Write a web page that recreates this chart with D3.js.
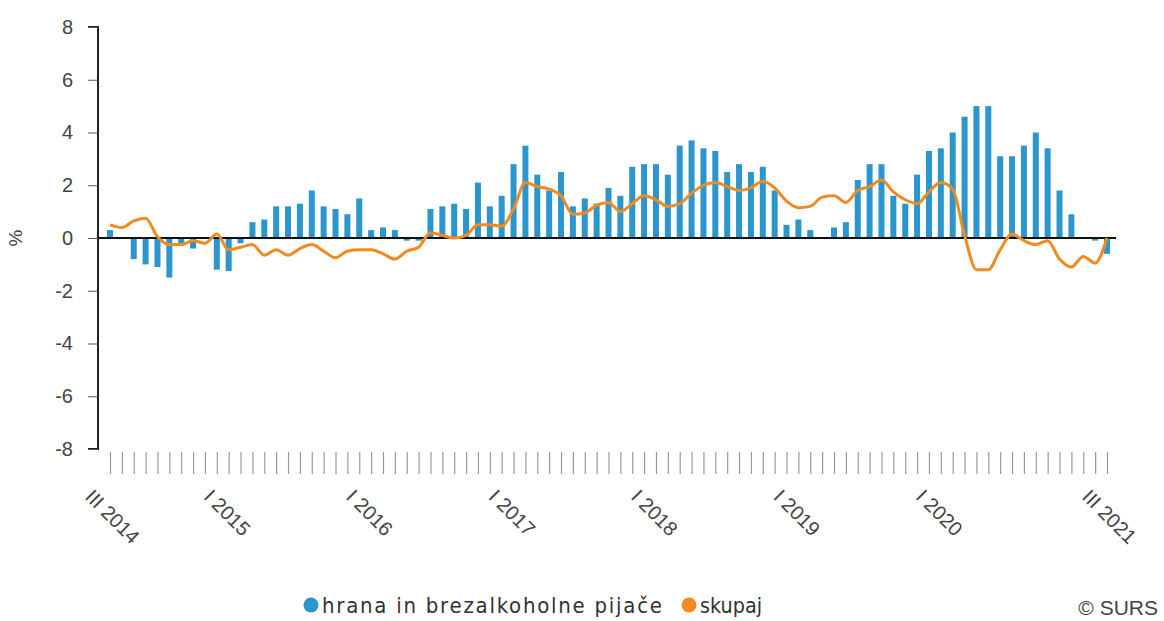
<!DOCTYPE html>
<html><head><meta charset="utf-8">
<script src="https://cdn.jsdelivr.net/npm/d3@7/dist/d3.min.js"></script>
<style>
html,body{margin:0;padding:0;background:#fff;}
svg{display:block;}
</style></head>
<body><svg id="c" width="1164" height="621"></svg>
<script>
const romans = ["I","II","III","IV","V","VI","VII","VIII","IX","X","XI","XII"];
const startYear = 2014, startMonth = 2; // March 2014
const categories = d3.range(85).map(i => {
  const m = (startMonth + i) % 12, y = startYear + Math.floor((startMonth + i) / 12);
  return romans[m] + " " + y;
});
const tickLabels = ["III 2014","I 2015","I 2016","I 2017","I 2018","I 2019","I 2020","III 2021"];
const yTicks = [-8,-6,-4,-2,0,2,4,6,8];
const food = [0.3,0.0,-0.8,-1.0,-1.1,-1.5,-0.3,-0.4,0.0,-1.2,-1.25,-0.2,0.6,0.7,1.2,1.2,1.3,1.8,1.2,1.1,
  0.9,1.5,0.3,0.4,0.3,-0.1,-0.1,1.1,1.2,1.3,1.1,2.1,1.2,1.6,2.8,3.5,2.4,1.8,2.5,1.2,
  1.5,1.3,1.9,1.6,2.7,2.8,2.8,2.4,3.5,3.7,3.4,3.3,2.5,2.8,2.5,2.7,1.8,0.5,0.7,0.3,
  0.0,0.4,0.6,2.2,2.8,2.8,1.6,1.3,2.4,3.3,3.4,4.0,4.6,5.0,5.0,3.1,3.1,3.5,4.0,3.4,
  1.8,0.9,0.0,-0.1,-0.6];
const total = [0.5,0.4,0.65,0.75,0.05,-0.25,-0.25,-0.1,-0.2,0.15,-0.45,-0.35,-0.25,-0.65,-0.45,-0.65,-0.4,-0.25,-0.5,-0.75,
  -0.5,-0.45,-0.45,-0.6,-0.8,-0.5,-0.35,0.2,0.1,0.0,0.1,0.5,0.5,0.45,1.1,2.1,1.95,1.85,1.6,0.9,
  0.95,1.25,1.35,1.0,1.3,1.6,1.45,1.2,1.3,1.7,2.0,2.1,1.95,1.8,1.9,2.15,1.9,1.4,1.15,1.2,
  1.55,1.6,1.35,1.8,1.95,2.2,1.75,1.45,1.3,1.75,2.1,1.85,0.1,-1.2,-1.2,-0.45,0.15,-0.1,-0.25,-0.1,
  -0.8,-1.1,-0.7,-0.95,0.0];
const seriesNames = ["hrana in brezalkoholne pijače","skupaj"];
const colors = ["#2a96cd","#f28a22"];

const svg = d3.select("#c");
const x = d3.scalePoint().domain(categories).range([110,1107]);
const y = d3.scaleLinear().domain([-8,8]).range([449,27]);
const axisX = 98;
const sans = "Liberation Sans, Arial, sans-serif";

// bars
svg.append("g").selectAll("rect").data(food).join("rect")
  .attr("x",(d,i)=>x(categories[i])-3).attr("width",6)
  .attr("y",d=>y(Math.max(0,d))).attr("height",d=>Math.abs(y(d)-y(0)))
  .attr("fill",colors[0]);

// y axis
const ya = svg.append("g").attr("transform",`translate(${axisX},0)`)
  .call(d3.axisLeft(y).tickValues(yTicks).tickSize(10).tickPadding(15).tickFormat(d=>String(d)));
ya.select(".domain").attr("stroke","#222").attr("stroke-width",2).attr("d",`M-10,${y(8)}H0V${y(-8)}H-10`);
ya.selectAll(".tick line").attr("stroke","#555");
ya.selectAll(".tick text").attr("font-family",sans).attr("font-size",20).attr("fill","#444");
svg.append("text").attr("transform",`translate(22,${y(0)}) rotate(-90)`).attr("text-anchor","middle")
  .attr("font-family",sans).attr("font-size",19).attr("fill","#444").text("%");

// zero line
svg.append("line").attr("x1",axisX).attr("x2",1116).attr("y1",y(0)).attr("y2",y(0)).attr("stroke","#111").attr("stroke-width",2);

// line
svg.append("path").datum(total)
  .attr("fill","none").attr("stroke",colors[1]).attr("stroke-width",3).attr("stroke-linejoin","round")
  .attr("d",d3.line().x((d,i)=>x(categories[i])).y(d=>y(d)).curve(d3.curveMonotoneX));

// x axis ticks
const xa = svg.append("g").attr("transform","translate(0,452)")
  .call(d3.axisBottom(x).tickValues(categories).tickSize(22).tickFormat(""));
xa.select(".domain").remove();
xa.selectAll(".tick line").attr("stroke","#999").attr("stroke-width",1.2);
// labels
svg.append("g").selectAll("text").data(tickLabels).join("text")
  .attr("transform",d=>`translate(${x(d)-26},${498}) rotate(45)`)
  .attr("font-family",sans).attr("font-size",20).attr("fill","#444")
  .text(d=>d);

// legend
const lg = svg.append("g").attr("font-family","DejaVu Sans Condensed, DejaVu Sans, sans-serif").attr("font-stretch","condensed").attr("font-size",22).attr("fill","#333");
const l1 = lg.append("g").attr("transform","translate(311,605)");
l1.append("circle").attr("r",7.5).attr("fill",colors[0]);
l1.append("text").attr("x",11).attr("y",7.5).attr("textLength",340).attr("lengthAdjust","spacing").text(seriesNames[0]);
const l2 = lg.append("g").attr("transform","translate(689,605)");
l2.append("circle").attr("r",7.5).attr("fill",colors[1]);
l2.append("text").attr("x",11).attr("y",7.5).attr("textLength",62).attr("lengthAdjust","spacingAndGlyphs").text(seriesNames[1]);
svg.append("text").attr("x",1158).attr("y",615).attr("text-anchor","end")
  .attr("font-family",sans).attr("font-size",21).attr("fill","#444").text("© SURS");
</script></body></html>
